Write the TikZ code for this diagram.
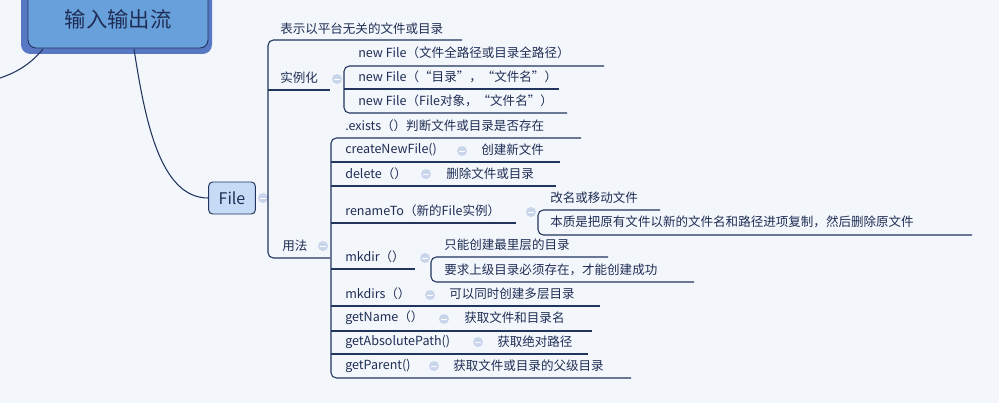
\documentclass[tikz,border=0pt]{standalone}
\usepackage{fontspec}
\setmainfont{Noto Sans CJK SC}
\begin{document}
\begin{tikzpicture}[x=0.75pt,y=-0.75pt,
  txt/.style={anchor=west,inner sep=0pt,text=tc,font=\fontsize{9.4}{11}\selectfont},
  ln/.style={draw=lc,line width=0.8pt},
  col/.style={circle,fill=cc,draw=none,minimum size=7.5pt,inner sep=0pt,
    path picture={\draw[white,line width=0.7pt] ([xshift=-2pt]path picture bounding box.center)--([xshift=2pt]path picture bounding box.center);}}]
\definecolor{tc}{HTML}{1F2E55}
\definecolor{lc}{HTML}{22355F}
\definecolor{cc}{HTML}{C9D5EA}
\definecolor{bg}{HTML}{F3F6FB}
\useasboundingbox (0,0) rectangle (999,403);
\fill[bg] (0,0) rectangle (999,403);
% root
\fill[rounded corners=7,fill={rgb,255:red,88;green,120;blue,196}] (21,-12) rectangle (212,54);
\fill[rounded corners=6,fill={rgb,255:red,104;green,160;blue,220},draw=lc,line width=0.7pt] (28,-10) rectangle (208,48);
\node[inner sep=0pt,text=tc,font=\fontsize{16}{18}\selectfont] (root) at (118,19) {输入输出流};
\coordinate (lft) at (0,78);
\draw[ln] (43,49) .. controls (30,65) and (15,73) .. (lft);
% File
\node[draw=lc,fill={rgb,255:red,198;green,219;blue,246},rounded corners=3,line width=0.7pt,inner sep=0pt,minimum height=24pt,minimum width=35pt,text=tc,font=\fontsize{12}{14}\selectfont] (file) at (232,198) {File};
\draw[ln] (134,49) .. controls (145,120) and (160,198) .. (file.west);
\node[col] (c0) at (263,198) {};
% level 1
\draw[ln,rounded corners=4] (462,40) -- (268,40) -- (268,258) -- (330,258);
\draw[ln] (268,90) -- (330,90);
\node[txt] (t1) at (280,29) {表示以平台无关的文件或目录};
\node[txt] (t2) at (280,78) {实例化};
\node[col] (c2) at (337,79) {};
\node[txt] (t3) at (282,246) {用法};
\node[col] (c3) at (323,246) {};
% 实例化 children
\draw[ln,rounded corners=4] (604,66) -- (344,66) -- (344,113) -- (567,113);
\draw[ln] (344,89) -- (559,89);
\node[txt] (a1) at (358,53) {new File（文件全路径或目录全路径）};
\node[txt] (a2) at (358,77) {new File（“目录”，“文件名”）};
\node[txt] (a3) at (358,101) {new File（File对象，“文件名”）};
% 用法 children
\draw[ln,rounded corners=4] (581,138) -- (331,138) -- (331,378) -- (631,378);
\foreach \y/\e in {162/560,186/556,223/516,269/415,306/600,331/592,354/588}
  \draw[ln] (331,\y) -- (\e,\y);
\node[txt] (b1) at (345,126) {.exists（）判断文件或目录是否存在};
\node[txt] (b2) at (345,150) {createNewFile()};
\node[col] at (462,151) {};
\node[txt] at (481,150) {创建新文件};
\node[txt] (b3) at (345,174) {delete（）};
\node[col] at (426,174) {};
\node[txt] at (446,174) {删除文件或目录};
\node[txt] (b4) at (345,211) {renameTo（新的File实例）};
\node[col] (c4) at (531,212) {};
\draw[ln,rounded corners=4] (660,210) -- (538,210) -- (538,235) -- (972,235);
\node[txt] at (550,198) {改名或移动文件};
\node[txt] at (550,222) {本质是把原有文件以新的文件名和路径进项复制，然后删除原文件};
\node[txt] (b5) at (345,257) {mkdir（）};
\node[col] (c5) at (425,258) {};
\draw[ln,rounded corners=4] (608,257) -- (431,257) -- (431,282) -- (694,282);
\node[txt] at (444,245) {只能创建最里层的目录};
\node[txt] at (444,270) {要求上级目录必须存在，才能创建成功};
\node[txt] (b6) at (345,294) {mkdirs（）};
\node[col] at (430,295) {};
\node[txt] at (449,294) {可以同时创建多层目录};
\node[txt] (b7) at (345,318) {getName（）};
\node[col] at (444,319) {};
\node[txt] at (464,318) {获取文件和目录名};
\node[txt] (b8) at (345,342) {getAbsolutePath()};
\node[col] at (478,342) {};
\node[txt] at (497,342) {获取绝对路径};
\node[txt] (b9) at (345,366) {getParent()};
\node[col] at (434,366) {};
\node[txt] at (453,366) {获取文件或目录的父级目录};
\end{tikzpicture}
\end{document}
